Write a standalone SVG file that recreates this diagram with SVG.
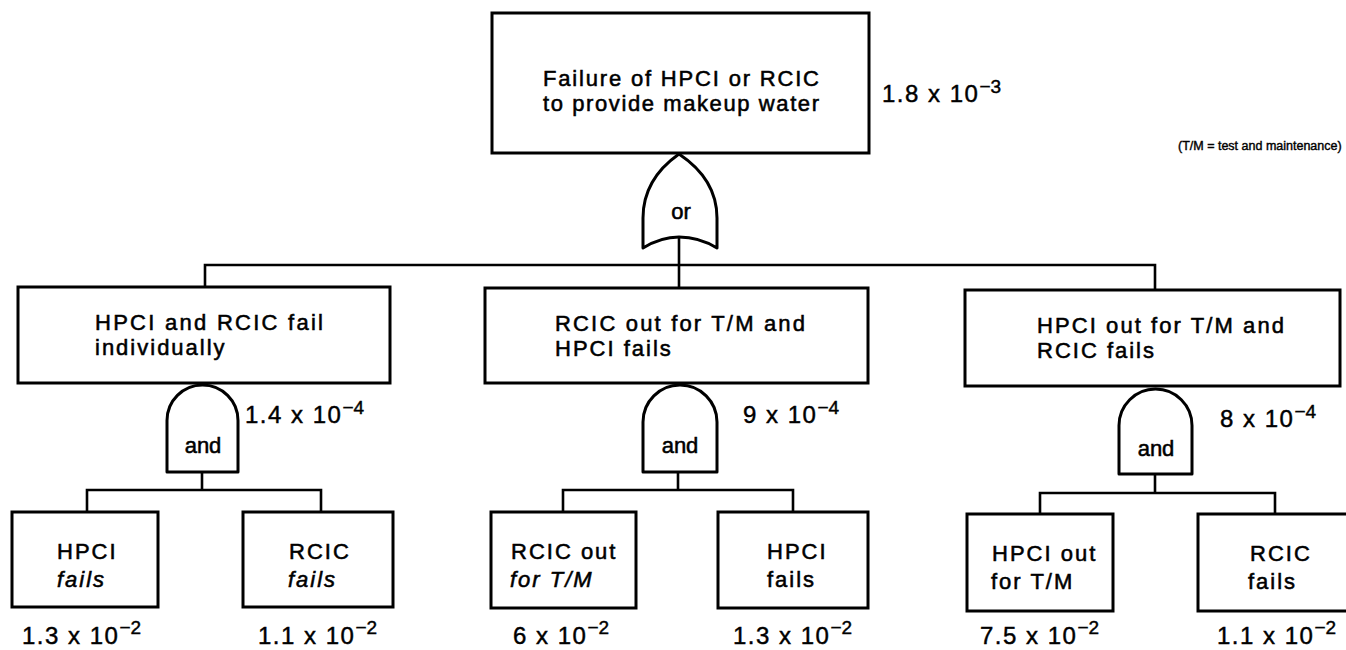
<svg xmlns="http://www.w3.org/2000/svg" width="1346" height="650" viewBox="0 0 1346 650">
<style>
.box{fill:#fff;stroke:#000;stroke-width:3}
.gate{fill:#fff;stroke:#000;stroke-width:3;stroke-linejoin:round}
.conn{fill:none;stroke:#000;stroke-width:2.6}
.t{font-family:"Liberation Sans",Arial,sans-serif;font-size:22px;letter-spacing:2px;fill:#000;stroke:#000;stroke-width:0.55}
.i{font-style:italic}
.v{font-family:"Liberation Sans",Arial,sans-serif;font-size:24px;letter-spacing:1.5px;fill:#000;stroke:#000;stroke-width:0.45}
.sup{font-size:19px;letter-spacing:0}
.note{font-family:"Liberation Sans",Arial,sans-serif;font-size:12.5px;fill:#000;stroke:#000;stroke-width:0.4}
.c{text-anchor:middle}
</style>
<rect width="1346" height="650" fill="#fff"/>
<g id="connectors" class="conn">
<path d="M679,237 V287"/>
<path d="M205,287 V265 H1155 V290"/>
<path d="M202,472 V490"/>
<path d="M87,512 V490 H321 V512"/>
<path d="M678,472 V490"/>
<path d="M563,512 V490 H793 V512"/>
<path d="M1155,474 V493"/>
<path d="M1040,514 V493 H1275 V514"/>
</g>
<g id="top">
<rect class="box" x="492" y="13" width="377" height="140"/>
<text class="t" x="543" y="86" textLength="278">Failure of HPCI or RCIC</text>
<text class="t" x="543" y="111" textLength="278">to provide makeup water</text>
<text class="v" x="882" y="102">1.8 x 10<tspan class="sup" dy="-9">−3</tspan></text>
</g>
<text id="note" class="note" x="1178" y="150">(T/M = test and maintenance)</text>
<g id="or-gate">
<path class="gate" d="M679,154 C662,166 643,186 643,218 L643,248 C656,240 668,237 679,237 C690,237 704,240 717,248 L717,218 C717,186 697,166 679,154 Z"/>
<text class="t c" x="681" y="219" style="letter-spacing:0">or</text>
</g>
<g id="mid-left">
<rect class="box" x="18" y="287" width="372" height="96"/>
<text class="t" x="95" y="330" textLength="230">HPCI and RCIC fail</text>
<text class="t" x="95" y="355">individually</text>
</g>
<g id="mid-center">
<rect class="box" x="485" y="288" width="383" height="95"/>
<text class="t" x="555" y="331" textLength="252">RCIC out for T/M and</text>
<text class="t" x="555" y="356">HPCI fails</text>
</g>
<g id="mid-right">
<rect class="box" x="965" y="290" width="375" height="96"/>
<text class="t" x="1037" y="333" textLength="249">HPCI out for T/M and</text>
<text class="t" x="1037" y="358">RCIC fails</text>
</g>
<g id="and-left">
<path class="gate" d="M167,472 V420.5 A35.5,35.5 0 0 1 238,420.5 V472 Z"/>
<text class="t c" x="203" y="453" style="letter-spacing:0">and</text>
<text class="v" x="245" y="423">1.4 x 10<tspan class="sup" dy="-9">−4</tspan></text>
</g>
<g id="and-center">
<path class="gate" d="M643,472 V422 A37,37 0 0 1 717,422 V472 Z"/>
<text class="t c" x="680" y="453" style="letter-spacing:0">and</text>
<text class="v" x="743" y="423">9 x 10<tspan class="sup" dy="-9">−4</tspan></text>
</g>
<g id="and-right">
<path class="gate" d="M1119,474 V425.5 A36.5,36.5 0 0 1 1192,425.5 V474 Z"/>
<text class="t c" x="1156" y="456" style="letter-spacing:0">and</text>
<text class="v" x="1220" y="427">8 x 10<tspan class="sup" dy="-9">−4</tspan></text>
</g>
<g id="leaf-1">
<rect class="box" x="12" y="512" width="146" height="95"/>
<text class="t" x="57" y="559">HPCI</text>
<text class="t i" x="57" y="587">fails</text>
<text class="v" x="22" y="644">1.3 x 10<tspan class="sup" dy="-10">−2</tspan></text>
</g>
<g id="leaf-2">
<rect class="box" x="243" y="512" width="150" height="95"/>
<text class="t" x="289" y="559">RCIC</text>
<text class="t i" x="288" y="587">fails</text>
<text class="v" x="258" y="644">1.1 x 10<tspan class="sup" dy="-10">−2</tspan></text>
</g>
<g id="leaf-3">
<rect class="box" x="491" y="512" width="145" height="96"/>
<text class="t" x="511" y="559">RCIC out</text>
<text class="t i" x="510" y="587">for T/M</text>
<text class="v" x="513" y="644">6 x 10<tspan class="sup" dy="-10">−2</tspan></text>
</g>
<g id="leaf-4">
<rect class="box" x="718" y="512" width="150" height="96"/>
<text class="t" x="767" y="559">HPCI</text>
<text class="t" x="767" y="587">fails</text>
<text class="v" x="733" y="644">1.3 x 10<tspan class="sup" dy="-10">−2</tspan></text>
</g>
<g id="leaf-5">
<rect class="box" x="967" y="514" width="146" height="97"/>
<text class="t" x="992" y="561">HPCI out</text>
<text class="t" x="991" y="589">for T/M</text>
<text class="v" x="980" y="644">7.5 x 10<tspan class="sup" dy="-10">−2</tspan></text>
</g>
<g id="leaf-6">
<rect class="box" x="1198" y="514" width="160" height="97"/>
<text class="t" x="1250" y="561">RCIC</text>
<text class="t" x="1248" y="589">fails</text>
<text class="v" x="1217" y="644">1.1 x 10<tspan class="sup" dy="-10">−2</tspan></text>
</g>
</svg>
